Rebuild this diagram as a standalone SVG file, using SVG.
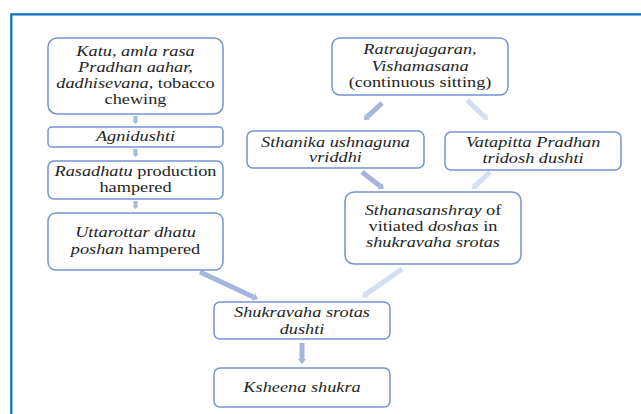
<svg xmlns="http://www.w3.org/2000/svg" width="641" height="414" viewBox="0 0 641 414">
<style>
.box{fill:#ffffff;stroke:#7393D8;stroke-width:1.5}
.t{font-size:15px;fill:#1e1e1e;text-anchor:middle}
.i{font-style:italic}
.cd{stroke:#A6B5DD;stroke-width:5;fill:none}
.cl{stroke:#D3DEF2;stroke-width:5;fill:none}
.cs{stroke:#A9B8DE;stroke-width:4;fill:none}
</style>
<defs>
<marker id="ad" markerUnits="userSpaceOnUse" viewBox="0 -5 7 10" refX="0" refY="0" markerWidth="7" markerHeight="10" orient="auto"><path d="M0,-4 L5,0 L0,4 z" fill="#A6B5DD"/></marker>
<marker id="al" markerUnits="userSpaceOnUse" viewBox="0 -5 7 10" refX="0" refY="0" markerWidth="7" markerHeight="10" orient="auto"><path d="M0,-4 L5,0 L0,4 z" fill="#D3DEF2"/></marker>
<marker id="as" markerUnits="userSpaceOnUse" viewBox="0 -4 4 8" refX="0" refY="0" markerWidth="4" markerHeight="8" orient="auto"><path d="M0,-3 L3,0 L0,3 z" fill="#A9B8DE"/></marker>
</defs>
<rect width="641" height="414" fill="#ffffff"/>
<path d="M11.3,414 V14.3 H641" fill="none" stroke="#0A6EC0" stroke-width="2.2"/>
<g id="connectors">
<line class="cs" x1="135.5" y1="116" x2="135.5" y2="121" marker-end="url(#as)"/>
<line class="cs" x1="135.5" y1="149" x2="135.5" y2="154" marker-end="url(#as)"/>
<line class="cs" x1="135.5" y1="201" x2="135.5" y2="206" marker-end="url(#as)"/>
<line class="cd" x1="382" y1="103" x2="367.6" y2="116.6" marker-end="url(#ad)"/>
<line class="cl" x1="467" y1="100" x2="484.4" y2="116.6" marker-end="url(#al)"/>
<line class="cd" x1="362" y1="172" x2="380" y2="185.9" marker-end="url(#ad)"/>
<line class="cl" x1="490" y1="172" x2="475.6" y2="185.6" marker-end="url(#al)"/>
<line class="cl" x1="402" y1="269" x2="366.1" y2="294.1" marker-end="url(#al)"/>
<line class="cd" x1="200" y1="272" x2="253.5" y2="296.9" marker-end="url(#ad)"/>
<line class="cd" x1="302" y1="343" x2="302" y2="359" marker-end="url(#ad)"/>
</g>
<g font-family="Liberation Serif, Tinos, Times New Roman, DejaVu Serif, serif">
<g id="n1">
<rect class="box" x="48" y="38" width="175" height="76" rx="9"/>
<g transform="translate(135.5 0) scale(1.22 1)">
<text class="t" x="0" y="56.5"><tspan class="i">Katu, amla rasa</tspan></text>
<text class="t" x="0" y="72.5"><tspan class="i">Pradhan aahar,</tspan></text>
<text class="t" x="0" y="88.5"><tspan class="i">dadhisevana</tspan>, tobacco</text>
<text class="t" x="0" y="104">chewing</text>
</g>
</g>
<g id="n2">
<rect class="box" x="48" y="127" width="175" height="20" rx="4"/>
<g transform="translate(135.5 0) scale(1.22 1)">
<text class="t i" x="0" y="141.5">Agnidushti</text>
</g>
</g>
<g id="n3">
<rect class="box" x="48" y="161" width="175" height="38" rx="6"/>
<g transform="translate(135.5 0) scale(1.22 1)">
<text class="t" x="0" y="176.5"><tspan class="i">Rasadhatu</tspan> production</text>
<text class="t" x="0" y="192.5">hampered</text>
</g>
</g>
<g id="n4">
<rect class="box" x="48" y="213" width="175" height="57" rx="8"/>
<g transform="translate(135.5 0) scale(1.22 1)">
<text class="t" x="0" y="237.5"><tspan class="i">Uttarottar dhatu</tspan></text>
<text class="t" x="0" y="254"><tspan class="i">poshan</tspan> hampered</text>
</g>
</g>
<g id="n5">
<rect class="box" x="332" y="38" width="176" height="57" rx="8"/>
<g transform="translate(420 0) scale(1.22 1)">
<text class="t i" x="0" y="54.5">Ratraujagaran,</text>
<text class="t i" x="0" y="71">Vishamasana</text>
<text class="t" x="0" y="87.5">(continuous sitting)</text>
</g>
</g>
<g id="n6">
<rect class="box" x="247" y="131" width="177" height="37" rx="6"/>
<g transform="translate(335.5 0) scale(1.22 1)">
<text class="t i" x="0" y="147">Sthanika ushnaguna</text>
<text class="t i" x="0" y="162.5">vriddhi</text>
</g>
</g>
<g id="n7">
<rect class="box" x="445" y="132" width="176" height="38" rx="6"/>
<g transform="translate(533 0) scale(1.22 1)">
<text class="t i" x="0" y="147.5">Vatapitta Pradhan</text>
<text class="t i" x="0" y="163">tridosh dushti</text>
</g>
</g>
<g id="n8">
<rect class="box" x="345" y="192" width="176" height="72" rx="9"/>
<g transform="translate(433 0) scale(1.22 1)">
<text class="t" x="0" y="215"><tspan class="i">Sthanasanshray</tspan> of</text>
<text class="t" x="0" y="231.5">vitiated <tspan class="i">doshas</tspan> in</text>
<text class="t i" x="0" y="247">shukravaha srotas</text>
</g>
</g>
<g id="n9">
<rect class="box" x="214" y="302" width="176" height="37" rx="6"/>
<g transform="translate(302 0) scale(1.22 1)">
<text class="t i" x="0" y="317.5">Shukravaha srotas</text>
<text class="t i" x="0" y="334">dushti</text>
</g>
</g>
<g id="n10">
<rect class="box" x="214" y="368" width="176" height="39" rx="6"/>
<g transform="translate(302 0) scale(1.22 1)">
<text class="t i" x="0" y="392">Ksheena shukra</text>
</g>
</g>
</g>
</svg>
